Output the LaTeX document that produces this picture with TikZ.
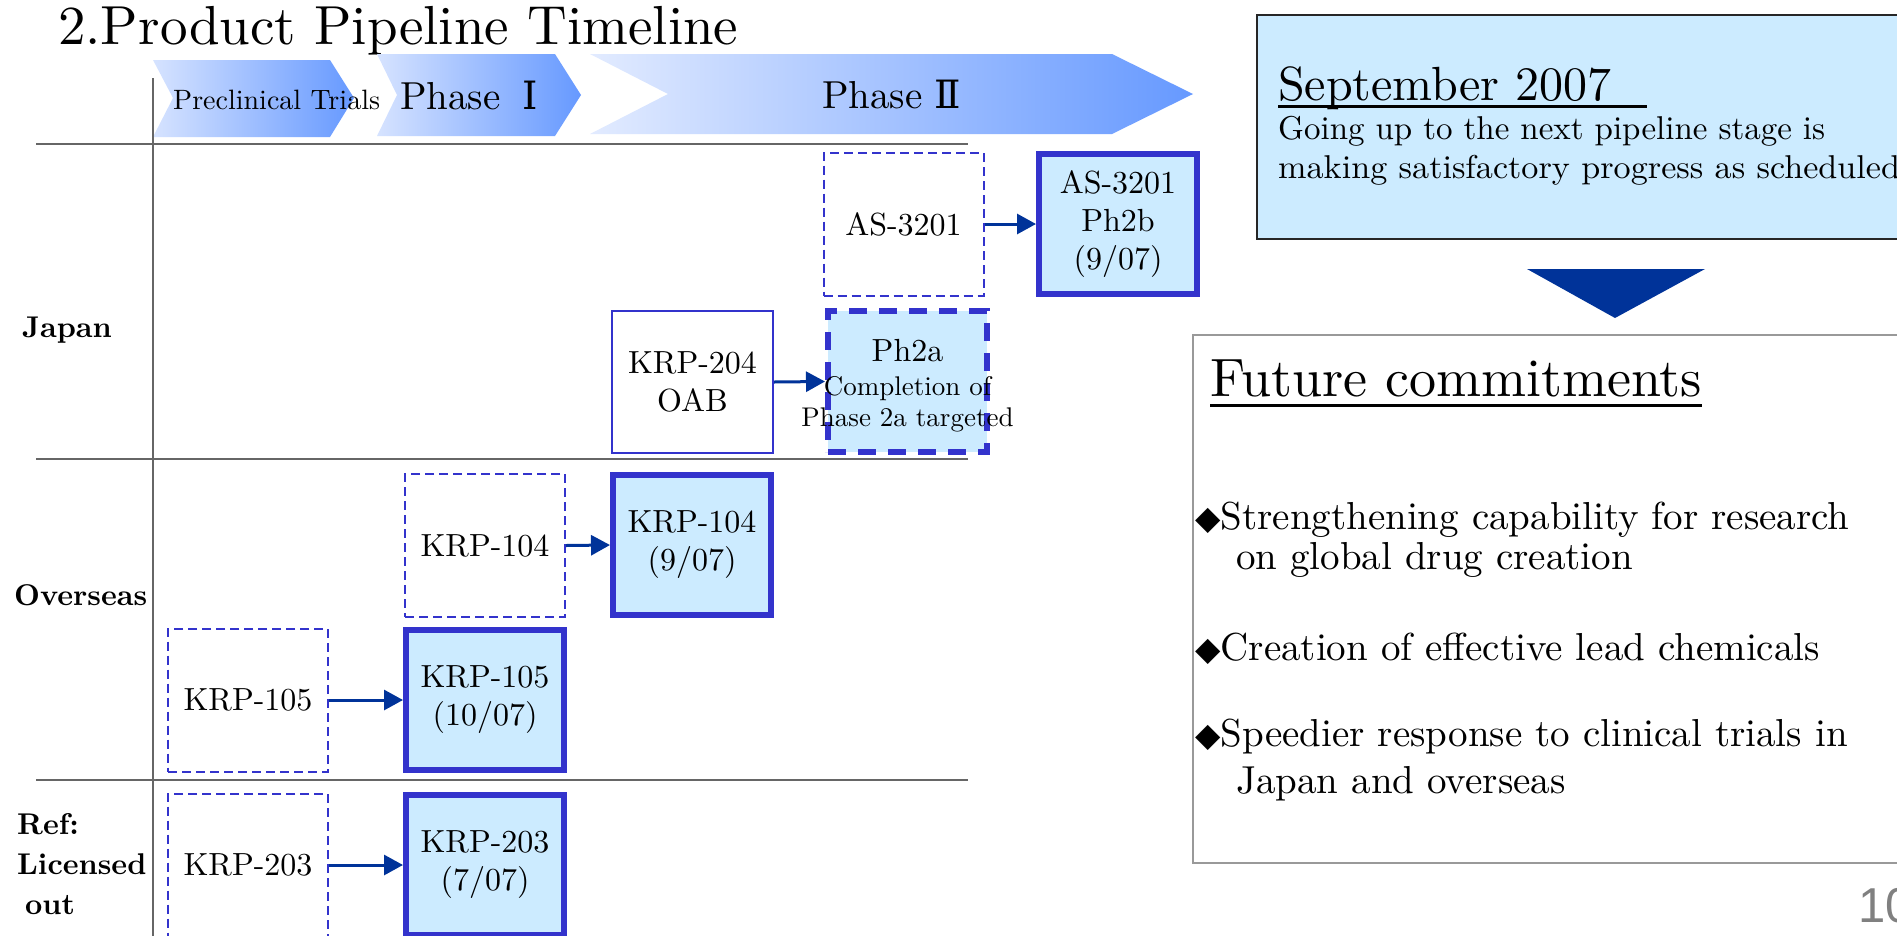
\documentclass[tikz,border=0pt]{standalone}
\usepackage{fontspec}
\setmainfont{lmroman10-regular.otf}[BoldFont=lmroman10-bold.otf]
\newfontfamily\numfont{DejaVu Serif}
\newfontfamily\symfont{DejaVu Sans}
\newfontfamily\pagefont{Liberation Sans}
\usetikzlibrary{arrows.meta}
\definecolor{boxblue}{HTML}{3333CC}
\definecolor{boxfill}{HTML}{CCEBFF}
\definecolor{navy}{HTML}{003399}
\definecolor{gridgray}{HTML}{666666}
\definecolor{chevL}{HTML}{D6E3FF}
\definecolor{chevLL}{HTML}{E2EBFF}
\definecolor{chevR}{HTML}{6699FF}
\definecolor{pagegray}{HTML}{808080}
\definecolor{futgray}{HTML}{999999}
\newcommand{\sz}[2]{\fontsize{#1}{#2}\selectfont}
\begin{document}
\begin{tikzpicture}[x=1pt,y=-1pt,
  boxtext/.style={font=\sz{32}{38}, align=center, inner sep=0pt},
  dashbox/.style={boxtext, draw=boxblue, line width=2pt, dash pattern=on 9pt off 5pt, minimum width=160pt, minimum height=143pt},
  thickbox/.style={boxtext, draw=boxblue, fill=boxfill, line width=6pt, minimum width=158pt, minimum height=140pt},
  thinbox/.style={boxtext, draw=boxblue, line width=2pt, minimum width=161pt, minimum height=142pt},
  thickdash/.style={draw=boxblue, fill=boxfill, line width=6pt, dash pattern=on 18pt off 12pt, minimum width=159pt, minimum height=141pt, inner sep=0pt},
  conn/.style={draw=navy, line width=3pt, -{Triangle[length=19pt,width=20pt]}},
  gridline/.style={draw=gridgray, line width=2.5pt},
  rowlabel/.style={font=\bfseries\sz{30}{40}, anchor=west, inner sep=0pt, align=left},
  plain/.style={inner sep=0pt, anchor=base west},
  cplain/.style={inner sep=0pt, anchor=base},
]
\useasboundingbox (0,0) rectangle (1897,935);
\clip (0,0) rectangle (1897,935);
\fill[white] (0,0) rectangle (1897,935);

% title
\node[plain, font=\sz{55}{60}] (title) at (58,44) {2.Product Pipeline Timeline};

% chevrons
\shade[left color=chevL, right color=chevR] (153,60) -- (330,60) -- (354,98) -- (330,137) -- (153,137) -- (173,98) -- cycle;
\shade[left color=chevL, right color=chevR] (377,54) -- (555,54) -- (581,95) -- (555,136) -- (377,136) -- (397,95) -- cycle;
\shade[left color=chevLL, right color=chevR] (590,54) -- (1112,54) -- (1193,94) -- (1112,134) -- (590,134) -- (668,94) -- cycle;
\node[plain, font=\sz{28}{30}] (pre) at (173,109) {Preclinical Trials};
\node[plain, font=\sz{39}{40}] (ph1) at (400,109) {Phase\hspace{22pt}{\numfont Ⅰ}};
\node[plain, font=\sz{39}{40}] (ph2) at (822,108) {Phase\hspace{12pt}{\numfont Ⅱ}};

% grid
\draw[gridline] (36,144) -- (968,144);
\draw[gridline] (36,459) -- (968,459);
\draw[gridline] (36,780) -- (968,780);
\draw[draw=gridgray, line width=2pt] (153,78) -- (153,940);

% row labels
\node[rowlabel] (japan) at (22,330) {Japan};
\node[rowlabel] (overseas) at (14,595) {Overseas};
\node[rowlabel] (ref) at (17,864) {Ref:\\Licensed\\\hspace*{8pt}out};

% Japan row
\node[dashbox] (as1) at (903.5,224) {AS-3201};
\node[thickbox] (as2) at (1118,224) {AS-3201\\Ph2b\\(9/07)};
\node[thinbox] (k204) at (692.5,382) {KRP-204\\OAB};
\node[thickdash] (ph2a) at (907.5,381.5) {};
\node[cplain, font=\sz{32}{38}] (ph2aA) at (907.5,361) {Ph2a};
\node[cplain, font=\sz{27}{31}] (ph2aB) at (907.5,395) {Completion of};
\node[cplain, font=\sz{27}{31}] (ph2aC) at (907.5,426) {Phase 2a targeted};
\draw[conn] (as1.east) -- (as2.west);
\draw[conn] (k204.east) -- (ph2a.west);

% Overseas row
\node[dashbox] (k104a) at (485,545.5) {KRP-104};
\node[thickbox] (k104b) at (692,545) {KRP-104\\(9/07)};
\node[dashbox] (k105a) at (248,700) {KRP-105};
\node[thickbox] (k105b) at (485,700) {KRP-105\\(10/07)};
\draw[conn] (k104a.east) -- (k104b.west);
\draw[conn] (k105a.east) -- (k105b.west);

% Licensed out row
\node[dashbox] (k203a) at (248,865) {KRP-203};
\node[thickbox] (k203b) at (485,865) {KRP-203\\(7/07)};
\draw[conn] (k203a.east) -- (k203b.west);

% September box
\node[draw=black!85, line width=2pt, fill=boxfill, anchor=north west, minimum width=700pt, minimum height=224pt, inner sep=0pt] (sept) at (1256,14) {};
\node[plain, font=\sz{48}{50}] (septtitle) at (1278,100) {September 2007};
\draw[line width=3pt] ([yshift=-6pt]septtitle.base west) -- ([yshift=-6pt,xshift=35pt]septtitle.base east);
\node[plain, font=\sz{33}{40}] (gl1) at (1278,139) {Going up to the next pipeline stage is};
\node[plain, font=\sz{33}{40}] (gl2) at (1278,178) {\scalebox{1.035}[1]{making satisfactory progress as scheduled}};

% down triangle
\fill[navy] (1527,269) -- (1705,269) -- (1615,318) -- cycle;

% Future commitments box
\node[draw=futgray, line width=2pt, anchor=north west, minimum width=760pt, minimum height=528pt, inner sep=0pt] (fut) at (1192,334) {};
\node[plain, font=\sz{54}{60}] (fc) at (1210,396) {Future commitments};
\draw[line width=3pt] ([yshift=-9pt]fc.base west) -- ([yshift=-9pt]fc.base east);
\node[plain, font=\sz{39}{44}] (b1a) at (1195,529) {{\symfont\sz{33}{44}◆}Strengthening capability for research};
\node[plain, font=\sz{39}{44}] (b1b) at (1236,569) {on global drug creation};
\node[plain, font=\sz{39}{44}] (b2) at (1195,660) {{\symfont\sz{33}{44}◆}Creation of effective lead chemicals};
\node[plain, font=\sz{39}{44}] (b3a) at (1195,746) {{\symfont\sz{33}{44}◆}Speedier response to clinical trials in};
\node[plain, font=\sz{39}{44}] (b3b) at (1236,793) {Japan and overseas};

% page number
\node[plain, font=\pagefont\sz{49}{50}, text=pagegray] (pg) at (1858,922) {10};
\end{tikzpicture}
\end{document}
